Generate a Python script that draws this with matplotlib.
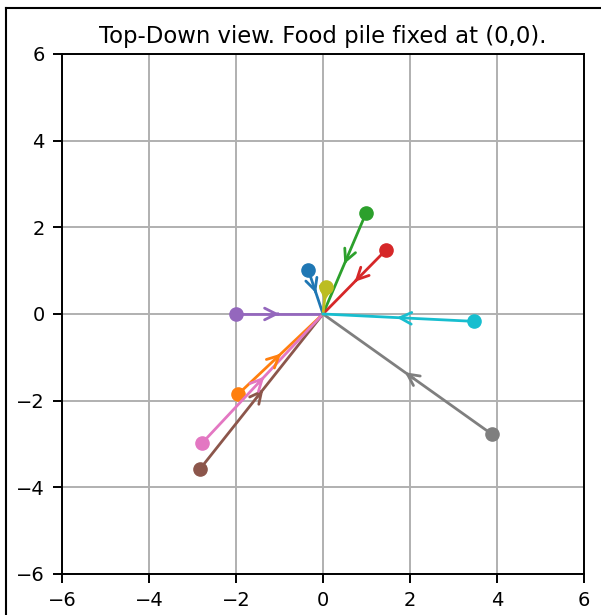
import matplotlib
matplotlib.use("Agg")
import matplotlib.pyplot as plt
from matplotlib.lines import Line2D

# start positions of each ant (food pile at origin)
xs = [-0.34, -1.95, 0.99, 1.45, -2.0, -2.83, -2.78, 3.89, 0.07, 3.47]
ys = [1.02, -1.85, 2.33, 1.48, 0.0, -3.58, -2.98, -2.78, 0.62, -0.17]
colors = ["C0", "C1", "C2", "C3", "C4", "C5", "C6", "C7", "C8", "C9"]

fig = plt.figure(figsize=(6.01, 6.15), dpi=100)
ax = fig.add_axes([0.1032, 0.0667, 0.8685, 0.8455])

for x, y, c in zip(xs, ys, colors):
    ax.plot([x, 0], [y, 0], color=c, lw=2)
    ax.plot(x, y, "o", color=c, ms=9.5)
    ax.annotate("", xy=(x * 0.47, y * 0.47), xytext=(x * 0.55, y * 0.55),
                arrowprops=dict(arrowstyle="->", color=c, lw=2,
                                mutation_scale=21))

ax.set_xlim(-6, 6)
ax.set_ylim(-6, 6)
ax.set_xticks(range(-6, 7, 2))
ax.set_yticks(range(-6, 7, 2))
ax.grid(True, color="#b0b0b0", lw=1.4)
for s in ax.spines.values():
    s.set_linewidth(1.4)
ax.tick_params(labelsize=14, length=6.5, width=1.4, pad=6)
ax.set_title("Top-Down view. Food pile fixed at (0,0).", fontsize=16.4, pad=8)

# figure frame
fx = 6 / 601
fy = 1 - 8 / 615
fig.add_artist(Line2D([fx, fx], [0, fy], color="black", lw=1.5, transform=fig.transFigure))
fig.add_artist(Line2D([fx, 1], [fy, fy], color="black", lw=1.5, transform=fig.transFigure))

plt.savefig("out.png", dpi=100)
